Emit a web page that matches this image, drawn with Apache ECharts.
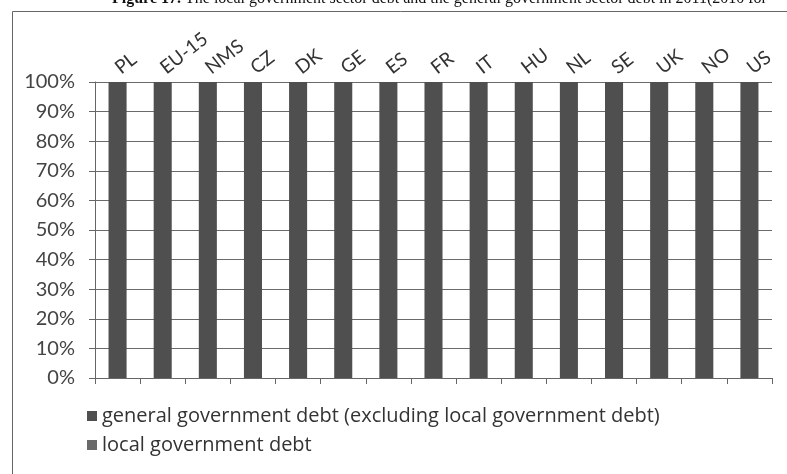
<!DOCTYPE html>
<html><head><meta charset="utf-8">
<script src="https://cdn.jsdelivr.net/npm/echarts@6/dist/echarts.min.js"></script>
<style>html,body{margin:0;padding:0;background:#fff}#c{width:787px;height:474px}</style>
</head><body><div id="c"></div>
<script>
var categories = ['PL','EU-15','NMS','CZ','DK','GE','ES','FR','IT','HU','NL','SE','UK','NO','US'];
var generalDebt = [100,100,100,100,100,100,100,100,100,100,100,100,100,100,100];
var localDebt = [0,0,0,0,0,0,0,0,0,0,0,0,0,0,0];
var yTicks = [0,10,20,30,40,50,60,70,80,90,100];
var seriesNames = ['general government debt (excluding local government debt)','local government debt'];
var titleBold = 'Figure 17.';
var titleRest = ' The local government sector debt and the general government sector debt in 2011(2010 for';

var chart = echarts.init(document.getElementById('c'));
var font = 'Lato, "Open Sans", sans-serif';
chart.setOption({
  animation: false,
  backgroundColor: '#fff',
  graphic: [
    {type:'rect', shape:{x:12.5,y:11.5,width:800,height:480}, style:{fill:'none',stroke:'#666',lineWidth:1}},
    {type:'text', x:112, y:-9, style:{
      text:'{b|'+titleBold+'}{r|'+titleRest+'}',
      rich:{b:{font:'bold 16px "Liberation Serif", serif', fill:'#111'}, r:{font:'16px "Liberation Serif", serif', fill:'#111'}}
    }}
  ],
  grid: {left:95, right:15, top:82, bottom:96, containLabel:false},
  legend: {
    orient:'vertical', left:82, top:401, itemGap:9, itemWidth:10, itemHeight:10,
    icon:'rect',
    textStyle:{fontFamily:'"Open Sans", sans-serif', fontSize:20, color:'#333'},
    data: seriesNames
  },
  xAxis: [
    {type:'category', data:categories, position:'bottom',
     axisLine:{lineStyle:{color:'#666'}}, axisTick:{show:true, length:6, lineStyle:{color:'#666'}},
     axisLabel:{show:false}},
    {type:'category', data:categories, position:'top',
     axisLine:{show:false}, axisTick:{show:false},
     axisLabel:{rotate:-38, margin:12, fontFamily:font, fontSize:19, color:'#333'}}
  ],
  yAxis: {type:'value', min:0, max:100, interval:10,
    axisLine:{show:true, lineStyle:{color:'#666'}},
    axisTick:{show:true, length:6, lineStyle:{color:'#666'}},
    splitLine:{lineStyle:{color:'#6a6a6a', width:1}},
    axisLabel:{margin:20, fontFamily:font, fontSize:20, color:'#444', formatter:function(v){return yTicks.indexOf(v)>=0? v+'%':'';}}
  },
  series: [
    {name:seriesNames[0], type:'bar', stack:'s', data:generalDebt, barWidth:'40%', itemStyle:{color:'#4f4f4f'}},
    {name:seriesNames[1], type:'bar', stack:'s', data:localDebt, barWidth:'40%', itemStyle:{color:'#6a6a6a'}}
  ]
});
</script></body></html>
